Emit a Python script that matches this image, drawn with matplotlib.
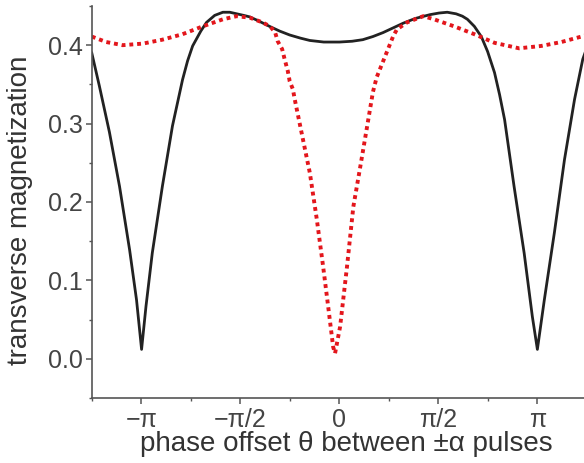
import numpy as np
import matplotlib
matplotlib.use("Agg")
import matplotlib.pyplot as plt
from matplotlib.ticker import MultipleLocator

plt.rcParams['font.family'] = ['Liberation Sans', 'DejaVu Sans']

# Phase offset (rad) and transverse magnetization, solid profile
theta_solid = [-3.93, -3.81, -3.65, -3.49, -3.33, -3.22, -3.14, -3.07, -2.97,
               -2.81, -2.65, -2.49, -2.41, -2.33, -2.20, -2.11, -1.98, -1.85,
               -1.74, -1.63, -1.52, -1.42, -1.26, -1.11, -0.95, -0.79, -0.62,
               -0.47, -0.25, 0.00, 0.20, 0.37, 0.53, 0.69, 0.85, 1.01, 1.20,
               1.44, 1.58, 1.71, 1.85, 1.95, 2.03, 2.14, 2.25, 2.35, 2.46,
               2.54, 2.62, 2.77, 2.93, 3.06, 3.14, 3.25, 3.41, 3.57, 3.73,
               3.86, 3.93]
mag_solid = [0.390, 0.348, 0.289, 0.220, 0.139, 0.075, 0.012, 0.067, 0.135,
             0.220, 0.297, 0.356, 0.380, 0.399, 0.418, 0.429, 0.438, 0.442,
             0.442, 0.440, 0.438, 0.436, 0.430, 0.424, 0.418, 0.413, 0.409,
             0.406, 0.404, 0.404, 0.405, 0.407, 0.411, 0.416, 0.422, 0.428, 0.434,
             0.439, 0.441, 0.442, 0.440, 0.437, 0.433, 0.424, 0.411, 0.392, 0.365,
             0.337, 0.305, 0.220, 0.135, 0.054, 0.012, 0.075, 0.161, 0.254, 0.331,
             0.382, 0.398]

# Dotted profile
theta_dotted = [-3.93, -3.70, -3.44, -3.12, -2.81, -2.49, -2.17, -1.85, -1.63,
                -1.42, -1.22, -1.10, -1.02, -0.98, -0.91, -0.87, -0.82, -0.79,
                -0.74, -0.71, -0.58, -0.47, -0.36, -0.26, -0.18, -0.10, -0.07,
                0.01, 0.12, 0.22, 0.33, 0.44, 0.53, 0.59, 0.64, 0.69, 0.75,
                0.80, 0.85, 0.91, 1.07, 1.33, 1.50, 1.82, 2.14, 2.46, 2.85,
                3.20, 3.52, 3.84, 3.93]
mag_dotted = [0.411, 0.404, 0.400, 0.402, 0.407, 0.414, 0.424, 0.433, 0.437,
              0.435, 0.429, 0.424, 0.416, 0.405, 0.395, 0.382, 0.367, 0.354,
              0.344, 0.331, 0.280, 0.237, 0.178, 0.118, 0.067, 0.015, 0.007,
              0.041, 0.118, 0.194, 0.245, 0.297, 0.340, 0.359, 0.369, 0.379, 0.391,
              0.401, 0.411, 0.420, 0.429, 0.437, 0.433, 0.424, 0.414, 0.403, 0.396,
              0.399, 0.404, 0.411, 0.413]

xtick_pos = [-np.pi, -np.pi / 2, 0, np.pi / 2, np.pi]
xtick_labels = ['\u2212\u03c0', '\u2212\u03c0/2', '0', '\u03c0/2', '\u03c0']
ytick_pos = [0.0, 0.1, 0.2, 0.3, 0.4]

fig = plt.figure(figsize=(5.84, 4.63), dpi=100)
ax = fig.add_axes([0.1575, 0.1404, 0.8476, 0.8467])

ax.plot(theta_solid, mag_solid, color='#222222', lw=2.0, solid_joinstyle='round')
ax.plot(theta_dotted, mag_dotted, color='#e3161c', lw=2.8,
        linestyle=(0, (1, 1)), dash_capstyle='butt')

ax.set_xlim(-5 * np.pi / 4, 5 * np.pi / 4)
ax.set_ylim(-0.05, 0.45)

for side in ('top', 'right'):
    ax.spines[side].set_visible(False)
for side in ('left', 'bottom'):
    ax.spines[side].set_color('#555555')
    ax.spines[side].set_linewidth(1.2)

ax.set_xticks(xtick_pos)
ax.set_xticklabels(xtick_labels)
ax.xaxis.set_minor_locator(MultipleLocator(np.pi / 4))
ax.set_yticks(ytick_pos)
ax.set_yticklabels([f'{v:.1f}' for v in ytick_pos])
ax.yaxis.set_minor_locator(MultipleLocator(0.05))

ax.tick_params(which='major', direction='out', length=4.5, width=1.1,
               color='#555555', labelcolor='#444444', labelsize=18)
ax.tick_params(which='minor', direction='out', length=2.5, width=1.0,
               color='#555555')
ax.tick_params(axis='y', pad=2)
ax.tick_params(axis='x', pad=3)

ax.set_xlabel('phase offset \u03b8 between \u00b1\u03b1 pulses', fontsize=20,
              color='#333333', labelpad=0)
ax.xaxis.set_label_coords(0.514, -0.085)
ax.set_ylabel('transverse magnetization', fontsize=20, color='#333333')
ax.yaxis.set_label_coords(-0.119, 0.48)

fig.savefig('out.png', dpi=100)
